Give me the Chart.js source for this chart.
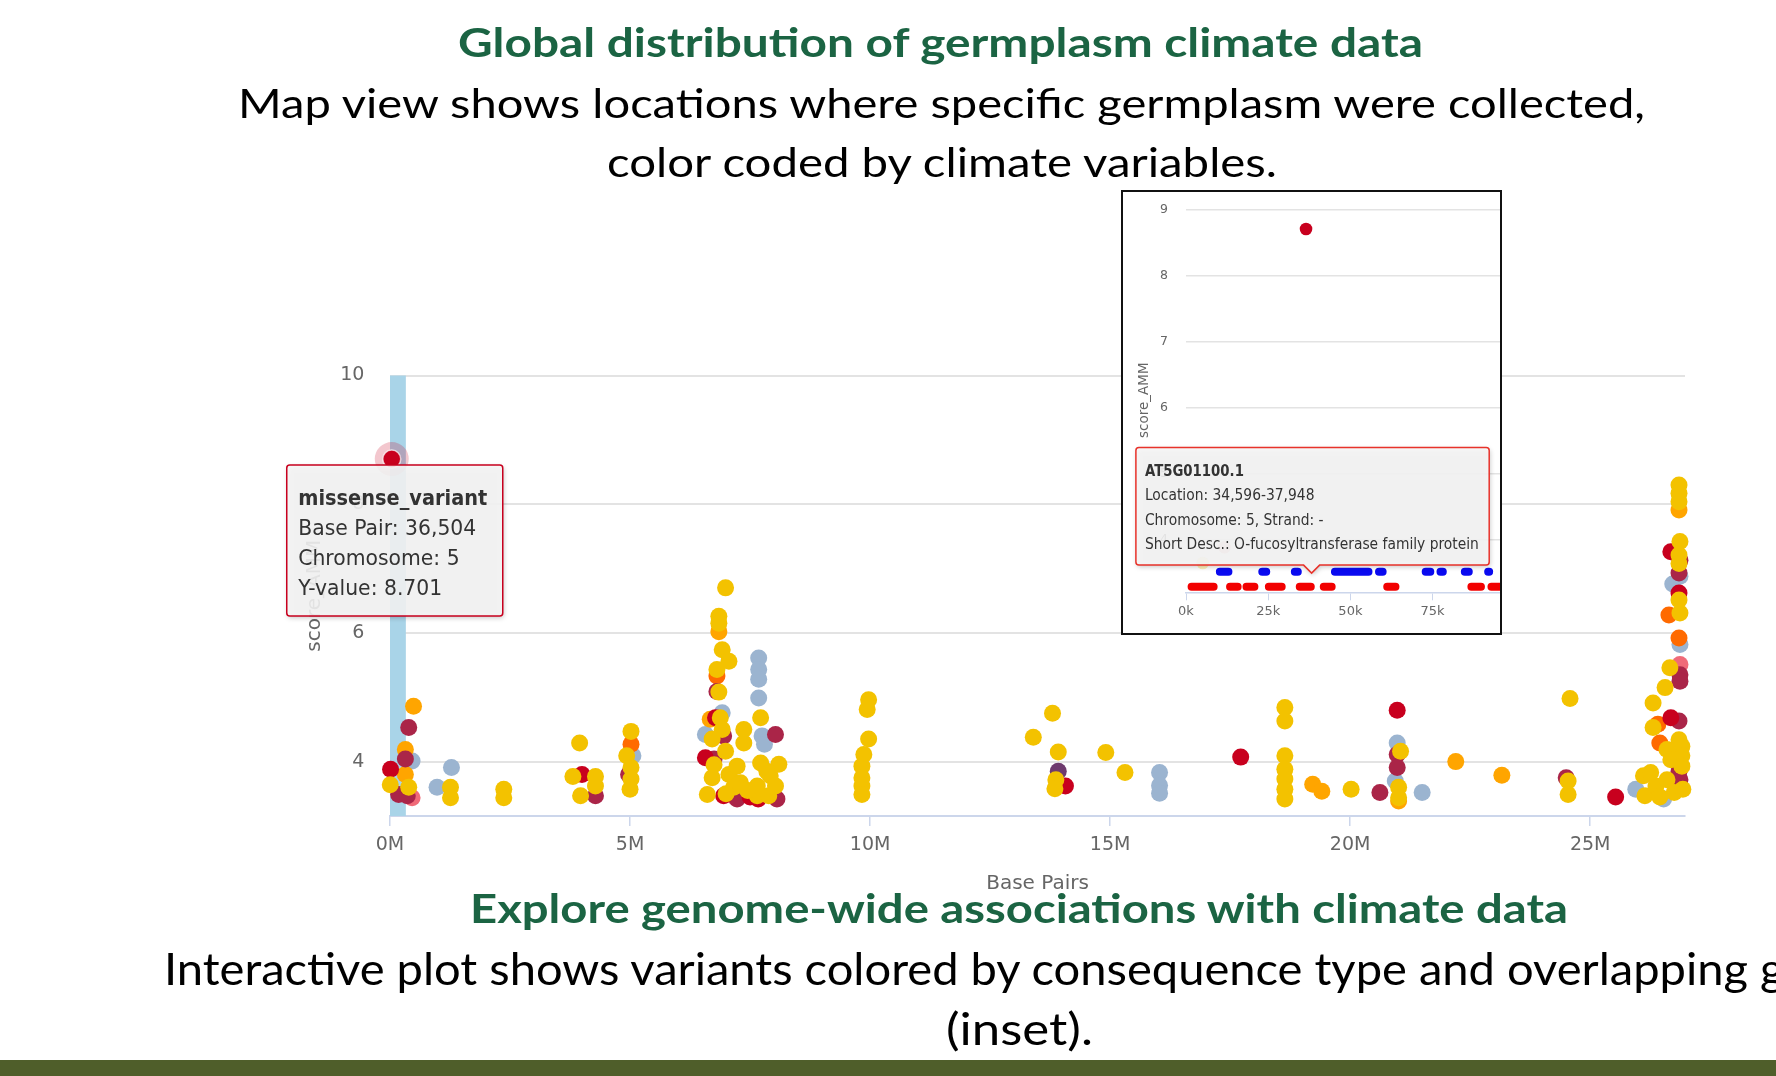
<!DOCTYPE html>
<html>
<head>
<meta charset="utf-8">
<title>Explore genome-wide associations with climate data</title>
<script src="https://cdn.jsdelivr.net/npm/chart.js@4.4.1/dist/chart.umd.min.js"></script>
<style>
  html, body { margin: 0; padding: 0; background: #fff; }
  body { width: 1776px; height: 1076px; position: relative; overflow: hidden; font-family: Lato, "Open Sans", sans-serif; }
  #main-chart { position: absolute; left: 0; top: 0; }
  #inset-box { position: absolute; left: 1121px; top: 190px; width: 381px; height: 445px; box-sizing: border-box;
               border: 2px solid #111; background: #fff; overflow: hidden; }
  #inset-chart { position: absolute; left: 0; top: 0; }
  .slide-text { position: absolute; left: 0; top: 0; white-space: nowrap; line-height: 1; transform-origin: 0 0; }
  .heading { color: #1b6443; font-weight: 700; font-size: 40px; }
  .body-line { color: #000; font-size: 41px; }
  #footer-bar { position: absolute; left: 0; top: 1060px; width: 1776px; height: 16px; background: #4f5e2a; }
</style>
</head>
<body>
<canvas id="main-chart" width="1776" height="1076"></canvas>
<div id="inset-box"><canvas id="inset-chart" width="420" height="441"></canvas></div>

<div class="slide-text heading" id="t-title">Global distribution of germplasm climate data</div>
<div class="slide-text body-line" id="t-map">Map view shows locations where specific germplasm were collected,</div>
<div class="slide-text body-line" id="t-color">color coded by climate variables.</div>
<div class="slide-text heading" id="t-explore">Explore genome-wide associations with climate data</div>
<div class="slide-text body-line" id="t-interactive" style="font-size:44px">Interactive plot shows variants colored by consequence type and overlapping genes</div>
<div class="slide-text body-line" id="t-inset" style="font-size:44px">(inset).</div>
<div id="footer-bar"></div>

<script>
// --- Data (x in Mbp for the main plot, kbp for the inset) ---
const xTicksM = [0, 5, 10, 15, 20, 25];
const yTicksMain = [4, 6, 8, 10];
const chromosomeLengthM = 26.975;
const selectedRegionM = [0, 0.33];

const synonymousPts = [
    [0.0051, 3.64], [0.39, 3.60], [1.26, 3.60], [1.26, 3.44], [2.37, 3.57], [2.37, 3.44],
    [3.95, 4.29], [3.81, 3.77], [3.97, 3.47], [4.28, 3.77], [4.28, 3.62],
    [5.02, 4.47], [4.93, 4.09], [5.02, 3.91], [5.02, 3.73], [5.00, 3.57],
    [6.99, 6.70], [6.85, 6.26], [6.85, 6.15], [6.92, 5.74], [7.06, 5.56], [6.81, 5.43], [6.85, 5.08],
    [6.88, 4.68], [6.92, 4.50], [6.71, 4.35], [6.99, 4.16], [6.71, 3.75], [6.61, 3.49], [7.06, 3.80],
    [7.23, 3.93], [7.37, 4.50], [7.37, 4.29], [7.30, 3.67], [7.16, 3.60], [7.72, 4.68], [7.72, 3.98],
    [8.10, 3.96], [7.65, 3.62], [7.65, 3.47], [7.92, 3.78], [8.03, 3.62], [7.89, 3.47], [6.75, 3.95],
    [7.00, 3.50], [7.45, 3.55], [7.85, 3.85],
    [9.97, 4.96], [9.94, 4.81], [9.97, 4.35], [9.87, 4.11], [9.83, 3.93], [9.83, 3.75], [9.83, 3.62], [9.83, 3.49],
    [13.80, 4.75], [13.40, 4.38], [13.92, 4.15], [13.87, 3.72], [13.85, 3.58], [14.91, 4.14], [15.31, 3.83],
    [18.64, 4.84], [18.64, 4.63], [18.64, 4.09], [18.64, 3.88], [18.64, 3.73], [18.64, 3.57], [18.64, 3.42],
    [20.02, 3.57], [21.05, 4.16], [21.01, 3.60], [21.01, 3.44], [24.58, 4.98], [24.54, 3.70], [24.54, 3.49],
    [26.85, 8.30], [26.85, 8.17], [26.85, 8.04], [26.87, 7.42], [26.85, 7.21], [26.85, 7.08], [26.85, 6.51],
    [26.87, 6.31], [26.66, 5.46], [26.56, 5.15], [26.31, 4.91], [26.31, 4.53], [26.85, 4.34], [26.91, 4.24],
    [26.91, 4.09], [26.60, 4.19], [26.11, 3.78], [26.14, 3.47], [26.37, 3.62], [26.60, 3.72], [26.75, 3.52],
    [26.93, 3.57], [26.26, 3.83], [26.68, 4.03], [26.91, 3.93], [26.45, 3.45]
];
const missensePts = [
    [0.0117, 3.88], [4.00, 3.80], [6.78, 4.68], [6.57, 4.06], [6.95, 3.47], [7.67, 3.42], [7.50, 3.45],
    [14.07, 3.62], [17.72, 4.07], [20.98, 4.80], [25.53, 3.45], [26.68, 7.26], [26.85, 6.62], [26.68, 4.68]
];
const downstreamPts = [
    [0.39, 4.53], [0.32, 4.04], [0.18, 3.49], [0.36, 3.47], [4.28, 3.47], [4.97, 3.80], [6.81, 5.09],
    [6.95, 4.40], [6.75, 4.04], [7.23, 3.42], [8.03, 4.42], [8.06, 3.42], [20.62, 3.52], [20.98, 4.11],
    [20.98, 3.91], [24.50, 3.75], [26.87, 7.13], [26.85, 6.93], [26.87, 5.35], [26.87, 5.25], [26.85, 4.63],
    [26.85, 3.85], [26.87, 3.72]
];
const utr3Pts = [[5.02, 4.27], [6.81, 5.33], [26.64, 6.28], [26.85, 5.92], [26.41, 4.58], [26.45, 4.29]];
const upstreamPts = [
    [0.49, 4.86], [0.32, 4.19], [0.32, 3.80], [6.85, 6.02], [6.67, 4.66], [19.22, 3.65], [19.41, 3.54],
    [21.01, 3.39], [22.20, 4.00], [23.16, 3.79], [26.85, 7.91]
];
const utr5Pts = [[0.46, 3.44], [26.87, 5.51], [7.18, 3.45]];
const spliceRegionPts = [[13.92, 3.85]];
const intronPts = [
    [0.46, 4.01], [0.98, 3.60], [1.28, 3.91], [5.06, 4.09], [6.92, 4.76], [6.57, 4.42], [7.68, 5.61],
    [7.68, 5.43], [7.68, 5.28], [7.68, 4.99], [7.75, 4.40], [7.80, 4.27], [16.03, 3.83], [16.03, 3.63],
    [16.03, 3.51], [20.98, 4.29], [20.94, 3.70], [21.50, 3.52], [25.95, 3.57], [26.72, 6.76], [26.87, 6.88],
    [26.87, 5.82], [26.53, 3.42]
];
const hoverVariant = { type: 'missense_variant', bp: 36504, chromosome: 5, y: 8.701 };

// inset: genes in the first 100 kb
const insetXTicksK = [0, 25, 50, 75, 100];
const insetYTicks = [4, 5, 6, 7, 8, 9];
const plusStrandGenesK = [[10.3, 12.9], [23.2, 24.4], [33.1, 34.0], [45.3, 55.5], [58.7, 59.8],
                          [72.9, 74.3], [77.4, 78.1], [84.8, 86.0], [91.9, 92.2]];
const minusStrandGenesK = [[1.7, 8.4], [13.4, 15.7], [18.4, 20.8], [25.2, 29.1], [34.596, 37.948],
                           [41.9, 44.3], [61.2, 63.7], [86.8, 89.7], [92.9, 99.0]];
const plusStrandY = 3.51;
const minusStrandY = 3.28;
const hoverGene = { id: 'AT5G01100.1', start: 34596, end: 37948, chromosome: 5, strand: '-',
                    desc: 'O-fucosyltransferase family protein', pointerK: 38.2 };

// --- Series styling ---
const seriesStyles = [
    { pts: synonymousPts, color: '#f3c200' },
    { pts: missensePts, color: '#c8001e' },
    { pts: downstreamPts, color: '#aa2548' },
    { pts: utr3Pts, color: '#ff6a00' },
    { pts: upstreamPts, color: '#ffa500' },
    { pts: utr5Pts, color: '#f06a78' },
    { pts: spliceRegionPts, color: '#6e3a6e' },
    { pts: intronPts, color: '#9bb4d0' }
];

const toXY = (pts, k = 1) => pts.map(([x, y]) => ({ x: x * k, y }));
const fade = (hex, a) => {
    const n = parseInt(hex.slice(1), 16);
    return `rgba(${n >> 16},${(n >> 8) & 255},${n & 255},${a})`;
};

Chart.defaults.font.family = '"DejaVu Sans", sans-serif';
Chart.defaults.color = '#666';
Chart.defaults.animation = false;

// --- Tooltip drawing helpers ---
function drawTipBox(ctx, l, t, w, h, border, pointerX, tipY) {
    const r = 3, rt = l + w, b = t + h;
    ctx.save();
    ctx.beginPath();
    ctx.moveTo(l + r, t);
    ctx.lineTo(rt - r, t); ctx.arcTo(rt, t, rt, t + r, r);
    ctx.lineTo(rt, b - r); ctx.arcTo(rt, b, rt - r, b, r);
    if (pointerX !== undefined) {
        ctx.lineTo(pointerX + 8, b); ctx.lineTo(pointerX, tipY); ctx.lineTo(pointerX - 8, b);
    }
    ctx.lineTo(l + r, b); ctx.arcTo(l, b, l, b - r, r);
    ctx.lineTo(l, t + r); ctx.arcTo(l, t, l + r, t, r);
    ctx.closePath();
    ctx.shadowColor = 'rgba(0,0,0,0.25)';
    ctx.shadowBlur = 5; ctx.shadowOffsetX = 1; ctx.shadowOffsetY = 2;
    ctx.fillStyle = 'rgba(247,247,247,0.88)';
    ctx.fill();
    ctx.shadowColor = 'transparent';
    ctx.lineWidth = 1.5;
    ctx.strokeStyle = border;
    ctx.stroke();
    ctx.restore();
}

// first line is bold and fitted to headWidth, the rest share one squeeze fitted on lines[fitLine]
function drawTipLines(ctx, lines, left, firstBase, step, size, headWidth, fitLine, fitWidth) {
    ctx.save();
    ctx.font = 'bold ' + size + 'px "DejaVu Sans"';
    const headSx = headWidth / ctx.measureText(lines[0]).width;
    ctx.font = size + 'px "DejaVu Sans"';
    const sx = fitWidth / ctx.measureText(lines[fitLine]).width;
    lines.forEach((ln, i) => {
        ctx.save();
        ctx.translate(left, firstBase + i * step);
        ctx.scale(i === 0 ? headSx : sx, 1);
        ctx.font = (i === 0 ? 'bold ' : '') + size + 'px "DejaVu Sans"';
        ctx.fillStyle = '#333';
        ctx.fillText(ln, 0, 0);
        ctx.restore();
    });
    ctx.restore();
}

// --- Main plot ---
const hoverM = hoverVariant.bp / 1e6;

const mainPlugin = {
    id: 'mainExtras',
    beforeDatasetsDraw(chart) {
        const { ctx, chartArea, scales: { x } } = chart;
        const x0 = x.getPixelForValue(selectedRegionM[0]);
        const x1 = x.getPixelForValue(selectedRegionM[1]);
        ctx.save();
        ctx.fillStyle = '#a9d4e8';
        ctx.fillRect(x0, chartArea.top, x1 - x0, chartArea.bottom - chartArea.top);
        ctx.restore();
    },
    afterDraw(chart) {
        const { ctx, scales: { x, y } } = chart;
        const px = x.getPixelForValue(hoverM);
        const py = y.getPixelForValue(hoverVariant.y);
        const l = px - 105, t = py + 6;
        drawTipBox(ctx, l, t, 216, 151, '#c8001e');
        const lines = [
            hoverVariant.type,
            'Base Pair: ' + hoverVariant.bp.toLocaleString('en-US'),
            'Chromosome: ' + hoverVariant.chromosome,
            'Y-value: ' + hoverVariant.y.toFixed(3)
        ];
        drawTipLines(ctx, lines, l + 11.5, t + 39.5, 30.2, 22, 189, 1, 178);
    }
};

const mainDatasets = [
    { data: [{ x: hoverM, y: hoverVariant.y }], backgroundColor: '#c8001e', pointRadius: 9,
      borderColor: 'rgba(255,255,255,0.7)', borderWidth: 1.5 },
    { data: [{ x: hoverM, y: hoverVariant.y }], backgroundColor: 'rgba(200,0,30,0.22)', pointRadius: 17, borderWidth: 0 }
].concat(seriesStyles.map(s => ({
    data: toXY(s.pts), backgroundColor: s.color, pointRadius: 8.5, borderWidth: 0
})));
mainDatasets.forEach(d => { d.clip = false; });

new Chart(document.getElementById('main-chart'), {
    type: 'scatter',
    data: { datasets: mainDatasets },
    options: {
        responsive: false,
        events: [],
        layout: { padding: { left: 290, right: 91, top: 375.5, bottom: 177.6 } },
        plugins: { legend: { display: false }, tooltip: { enabled: false } },
        scales: {
            x: {
                type: 'linear', position: 'bottom', min: 0, max: chromosomeLengthM,
                afterBuildTicks: s => { s.ticks = xTicksM.map(v => ({ value: v })); },
                afterFit: s => { s.height = 82.4; },
                ticks: { callback: v => v + 'M', font: { size: 19 }, padding: 8, maxRotation: 0 },
                grid: { drawOnChartArea: false, drawTicks: true, tickLength: 10, color: '#ccd6eb', lineWidth: 1.5 },
                border: { display: true, color: '#ccd6eb', width: 2 },
                title: { display: true, text: 'Base Pairs', font: { size: 20 }, color: '#666', padding: { top: 4, bottom: 3 } }
            },
            y: {
                type: 'linear', position: 'left', min: 3.155, max: 10,
                afterBuildTicks: s => { s.ticks = yTicksMain.map(v => ({ value: v })); },
                afterFit: s => { s.width = 100; },
                ticks: { font: { size: 19 }, padding: 25.6 },
                grid: { color: '#e3e3e3', lineWidth: 2, drawTicks: false },
                border: { display: false },
                title: { display: true, text: 'score_AMM', font: { size: 20 }, color: '#666', padding: { top: 13, bottom: 4 } }
            }
        }
    },
    plugins: [mainPlugin]
});

// --- Inset (first 100 kb) ---
function genesToLine(genes, y) {
    const pts = [];
    genes.forEach(([a, b]) => { pts.push({ x: a, y }, { x: b, y }, { x: b, y: null }); });
    return pts;
}

const insetPlugin = {
    id: 'insetTooltip',
    afterDraw(chart) {
        const { ctx, scales: { x, y } } = chart;
        const tipX = x.getPixelForValue(hoverGene.pointerK);
        const tipY = y.getPixelForValue(minusStrandY) - 13.7;
        const l = tipX - 175.7, t = tipY - 125.7;
        drawTipBox(ctx, l, t, 353.3, 117.7, '#e8322a', tipX, tipY);
        const lines = [
            hoverGene.id,
            'Location: ' + hoverGene.start.toLocaleString('en-US') + '-' + hoverGene.end.toLocaleString('en-US'),
            'Chromosome: ' + hoverGene.chromosome + ', Strand: ' + hoverGene.strand,
            'Short Desc.: ' + hoverGene.desc
        ];
        drawTipLines(ctx, lines, l + 9, t + 28.4, 24.4, 16, 99, 3, 334);
    }
};

const insetDatasets = [
    { data: [{ x: hoverVariant.bp / 1000, y: hoverVariant.y }], backgroundColor: '#c8001e', pointRadius: 6.3, borderWidth: 0 },
    { type: 'line', data: genesToLine(plusStrandGenesK, plusStrandY), borderColor: '#0a0af0', borderWidth: 8,
      borderCapStyle: 'round', pointRadius: 0, spanGaps: false, fill: false, showLine: true },
    { type: 'line', data: genesToLine(minusStrandGenesK, minusStrandY), borderColor: '#f20000', borderWidth: 8,
      borderCapStyle: 'round', pointRadius: 0, spanGaps: false, fill: false, showLine: true }
].concat(seriesStyles.map(s => ({
    data: toXY(s.pts.filter(p => p[0] < 0.1 && p[0] !== hoverM), 1000),
    backgroundColor: fade(s.color, 0.28), pointRadius: 6.3, borderWidth: 0
})));

new Chart(document.getElementById('inset-chart'), {
    type: 'scatter',
    data: { datasets: insetDatasets },
    options: {
        responsive: false,
        events: [],
        layout: { padding: { left: 9, right: 28.2, top: 16, bottom: 0 } },
        plugins: { legend: { display: false }, tooltip: { enabled: false } },
        scales: {
            x: {
                type: 'linear', position: 'bottom', min: 0, max: 100,
                afterBuildTicks: s => { s.ticks = insetXTicksK.map(v => ({ value: v })); },
                afterFit: s => { s.height = 40.7; },
                ticks: { callback: v => v + 'k', font: { size: 13 }, padding: 4, maxRotation: 0 },
                grid: { drawOnChartArea: false, drawTicks: true, tickLength: 8, color: '#ccd6eb', lineWidth: 1 },
                border: { display: true, color: '#ccd6eb', width: 1.5 }
            },
            y: {
                type: 'linear', position: 'left', min: 3.197, max: 9.02,
                afterBuildTicks: s => { s.ticks = insetYTicks.map(v => ({ value: v })); },
                afterFit: s => { s.width = 54; },
                // label gap made with invisible tick marks: tick padding would also push the plot top down
                ticks: { font: { size: 12.5 }, padding: 0 },
                grid: { color: '#e3e3e3', lineWidth: 1.5, drawTicks: true, tickLength: 18, tickColor: 'rgba(0,0,0,0)' },
                border: { display: false },
                title: { display: true, text: 'score_AMM', font: { size: 13.5 }, color: '#666', padding: { top: 4, bottom: 4 } }
            }
        }
    },
    plugins: [insetPlugin]
});

// --- Slide text: pin each line by its left edge and baseline, squeezed to the slide's width ---
function textWidth(id, text) {
    const probe = document.getElementById(id).cloneNode(false);
    probe.removeAttribute('id');
    probe.style.visibility = 'hidden';
    probe.textContent = text;
    document.body.appendChild(probe);
    const w = probe.getBoundingClientRect().width;
    probe.remove();
    return w;
}

function placeText(id, left, baseline, width, scale) {
    const el = document.getElementById(id);
    const mark = document.createElement('span');
    mark.style.cssText = 'display:inline-block;width:0;height:0;';
    el.appendChild(mark);
    const box = el.getBoundingClientRect();
    const base = mark.getBoundingClientRect().top - box.top;
    const sx = scale || width / box.width;
    el.style.left = left + 'px';
    el.style.top = (baseline - base) + 'px';
    el.style.transform = 'scaleX(' + sx + ')';
    return sx;
}

placeText('t-title', 458, 56.7, 965);
placeText('t-map', 238, 118.3, 1407);
placeText('t-color', 606.7, 176.7, 670);
placeText('t-explore', 470, 923.3, 1098);
// this line runs off the slide; squeeze it so "…overlapping" ends where it does in the slide
const interactivePrefix = 'Interactive plot shows variants colored by consequence type and overlapping';
placeText('t-interactive', 164, 985, 0, 1584 / textWidth('t-interactive', interactivePrefix));
placeText('t-inset', 945.6, 1045, 147);
</script>
</body>
</html>
